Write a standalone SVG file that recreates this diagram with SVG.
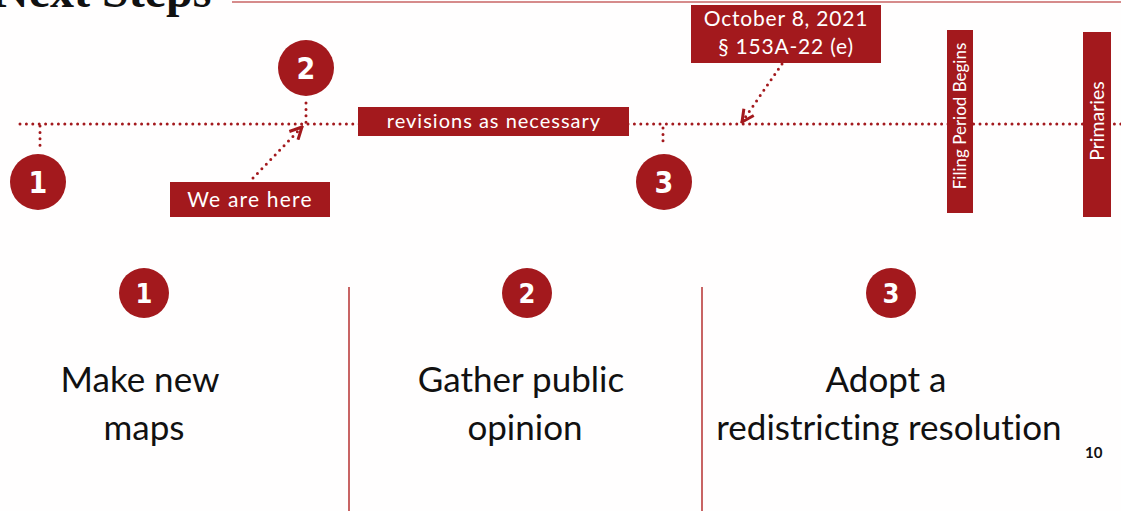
<svg xmlns="http://www.w3.org/2000/svg" width="1121" height="511" viewBox="0 0 1121 511">
<defs>
<style>
.dot{fill:none;stroke:#a3191d;stroke-width:3;stroke-dasharray:0 6.4;stroke-linecap:round}
.box{fill:#a3191d}
.circ{fill:#a3191d}
.num{font-family:"DejaVu Sans Condensed","Liberation Sans Narrow",sans-serif;font-weight:bold;fill:#fff;text-anchor:middle}
.lbl{font-family:Lato,"Open Sans",sans-serif;fill:#fff;text-anchor:middle;font-variant-ligatures:none}
.big{font-family:Lato,"Open Sans",sans-serif;fill:#111;font-size:35px;text-anchor:middle;font-variant-ligatures:none}
.sep{stroke:#c86464;stroke-width:2}
</style>
<marker id="arr" viewBox="0 0 10 10" refX="9" refY="5" markerWidth="5" markerHeight="5" orient="auto">
<path d="M1,1 L9,5 L1,9" fill="none" stroke="#a3191d" stroke-width="2"/>
</marker>
</defs>
<rect width="1121" height="511" fill="#fffefe"/>
<g id="title">
<text x="-6" y="7" font-family="Liberation Serif,serif" font-weight="bold" font-size="48" fill="#111">Next Steps</text>
<line x1="232" y1="2" x2="1121" y2="2" stroke="#c86464" stroke-width="1.5"/>
</g>
<g id="connectors">
<line class="dot" x1="20" y1="124" x2="1121" y2="124"/>
<line class="dot" x1="40" y1="126" x2="40" y2="146"/>
<line class="dot" x1="306" y1="103" x2="306" y2="124"/>
<line class="dot" x1="663" y1="128" x2="663" y2="146"/>
<line class="dot" x1="253" y1="178" x2="302" y2="127" marker-end="url(#arr)"/>
<line class="dot" x1="782" y1="64" x2="742" y2="122" marker-end="url(#arr)"/>
</g>
<g id="step1-top"><circle class="circ" cx="38" cy="182" r="28"/><text class="num" x="38" y="193" font-size="30">1</text></g>
<g id="step2-top"><circle class="circ" cx="306" cy="68" r="28"/><text class="num" x="306" y="79" font-size="30">2</text></g>
<g id="step3-top"><circle class="circ" cx="664" cy="182" r="28"/><text class="num" x="664" y="193" font-size="30">3</text></g>
<g id="we-are-here"><rect class="box" x="170" y="182" width="160" height="35"/><text class="lbl" x="250" y="207" font-size="21" letter-spacing="1.2">We are here</text></g>
<g id="revisions"><rect class="box" x="358" y="107" width="271" height="29"/><text class="lbl" x="494" y="128" font-size="20" letter-spacing="1">revisions as necessary</text></g>
<g id="october"><rect class="box" x="691" y="5" width="190" height="58"/><text class="lbl" x="786" y="26" font-size="21" letter-spacing="0.8">October 8, 2021</text><text class="lbl" x="786" y="54" font-size="21" letter-spacing="0.8">§ 153A-22 (e)</text></g>
<g id="filing"><rect class="box" x="947" y="30" width="26" height="183"/><text class="lbl" font-size="17" transform="translate(966,116) rotate(-90)">Filing Period Begins</text></g>
<g id="primaries"><rect class="box" x="1083" y="32" width="28" height="185"/><text class="lbl" font-size="19.5" transform="translate(1104,121) rotate(-90)">Primaries</text></g>
<g id="step1"><circle class="circ" cx="144" cy="293" r="25"/><text class="num" x="144" y="303" font-size="27">1</text>
<text class="big" x="140" y="392">Make new</text><text class="big" x="144" y="440">maps</text></g>
<g id="step2"><circle class="circ" cx="527" cy="293" r="25"/><text class="num" x="527" y="303" font-size="27">2</text>
<text class="big" x="521" y="392">Gather public</text><text class="big" x="525" y="440">opinion</text></g>
<g id="step3"><circle class="circ" cx="891" cy="293" r="25"/><text class="num" x="891" y="303" font-size="27">3</text>
<text class="big" x="886" y="392">Adopt a</text><text class="big" x="889" y="440">redistricting resolution</text></g>
<g id="separators"><line class="sep" x1="349" y1="287" x2="349" y2="511"/><line class="sep" x1="702" y1="287" x2="702" y2="511"/></g>
<text x="1085" y="458" font-family="Lato,sans-serif" font-weight="bold" font-size="15" fill="#111">10</text>
</svg>
